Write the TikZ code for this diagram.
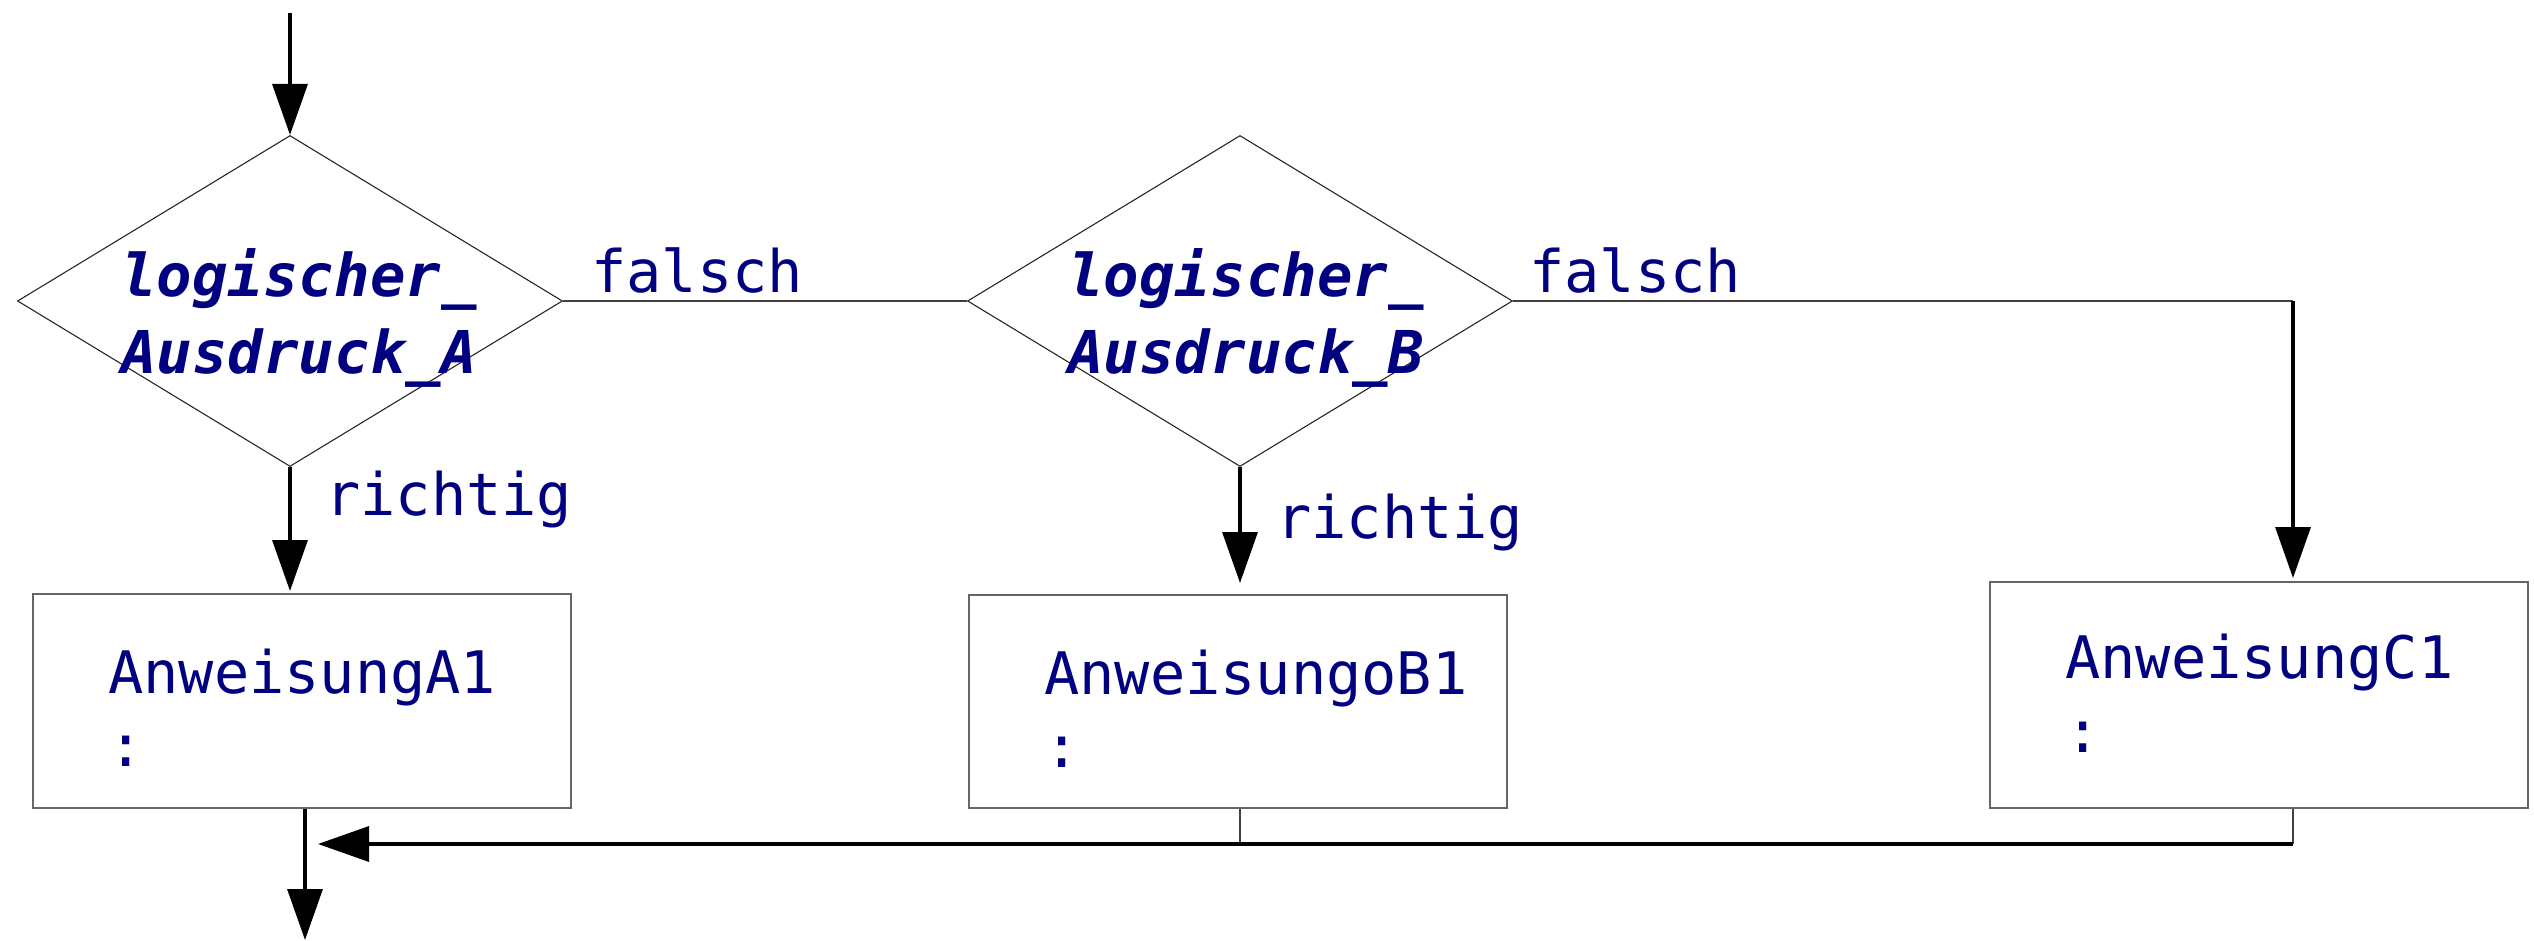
\documentclass[tikz,border=0pt]{standalone}
\usepackage{fontspec}
\newfontfamily\dvm{DejaVu Sans Mono}
\usetikzlibrary{shapes.geometric,arrows.meta}
\definecolor{navy}{RGB}{0,0,128}
\begin{document}
\begin{tikzpicture}[x=1pt,y=-1pt,
  dia/.style={diamond, draw=black!85, line width=1.1pt, inner sep=0pt,
              minimum width=545pt, minimum height=331pt},
  box/.style={rectangle, draw=black!60, line width=1.5pt, inner sep=0pt,
              minimum width=538pt, minimum height=214pt, anchor=north west},
  txt/.style={font={\dvm\fontsize{58.6}{73}\selectfont}, text=navy, inner sep=0pt},
  cond/.style={font={\dvm\bfseries\itshape\fontsize{59}{73}\selectfont}, text=navy, inner sep=0pt, anchor=base},
  thinline/.style={draw=black!75, line width=1.2pt},
  flow/.style={draw=black, line width=3.3pt, -{Triangle[length=51pt,width=35pt]}},
]
\useasboundingbox (0,0) rectangle (2534,941);

% decisions
\coordinate (start) at (290,13);
\node[dia] (dA) at (290,301) {};
\node[dia] (dB) at (1240,301) {};
\node[cond] (cA1) at (299,297) {logischer\_};
\node[cond] (cA2) at (299,373) {Ausdruck\_A};
\node[cond] (cB1) at (1246,297) {logischer\_};
\node[cond] (cB2) at (1246,373) {Ausdruck\_B};

% statements
\node[box] (bA) at (32,593) {};
\node[box, minimum height=213pt] (bB) at (968,594) {};
\node[box, minimum height=226pt] (bC) at (1989,581) {};
\node[txt, anchor=base west] (tA1) at (108,693) {AnweisungA1};
\node[txt, anchor=base west] (tA2) at (108,766) {:};
\node[txt, anchor=base west] (tB1) at (1044,694) {AnweisungoB1};
\node[txt, anchor=base west] (tB2) at (1044,767) {:};
\node[txt, anchor=base west] (tC1) at (2065,678) {AnweisungC1};
\node[txt, anchor=base west] (tC2) at (2065,752) {:};

% labels
\node[txt, anchor=base west] (fA) at (591,293) {falsch};
\node[txt, anchor=base west] (fB) at (1529,293) {falsch};
\node[txt, anchor=base west] (rA) at (325,515) {richtig};
\node[txt, anchor=base west] (rB) at (1276,538) {richtig};

% helper points
\coordinate (corner) at (2293,301);
\coordinate (jC) at (2293,844);
\coordinate (tipL) at (318,844);
\coordinate (endA) at (305,940);

% connectors
\draw[flow] (start) -- (dA.north);
\draw[thinline] (dA.east) -- (dB.west);
\draw[thinline] (dB.east) -- (corner);
\draw[flow] (corner) -- ([yshift=3pt]corner |- bC.north);
\draw[flow] (dA.south) -- ([yshift=2pt]dA.south |- bA.north);
\draw[flow] (dB.south) -- ([yshift=11pt]dB.south |- bB.north);
\draw[thinline] (corner |- bC.south) -- (jC);
\draw[thinline] (dB.south |- bB.south) -- (dB.south |- jC);
\draw[flow] (jC) -- (tipL);
\draw[flow] (endA |- bA.south) -- (endA);
\end{tikzpicture}
\end{document}
